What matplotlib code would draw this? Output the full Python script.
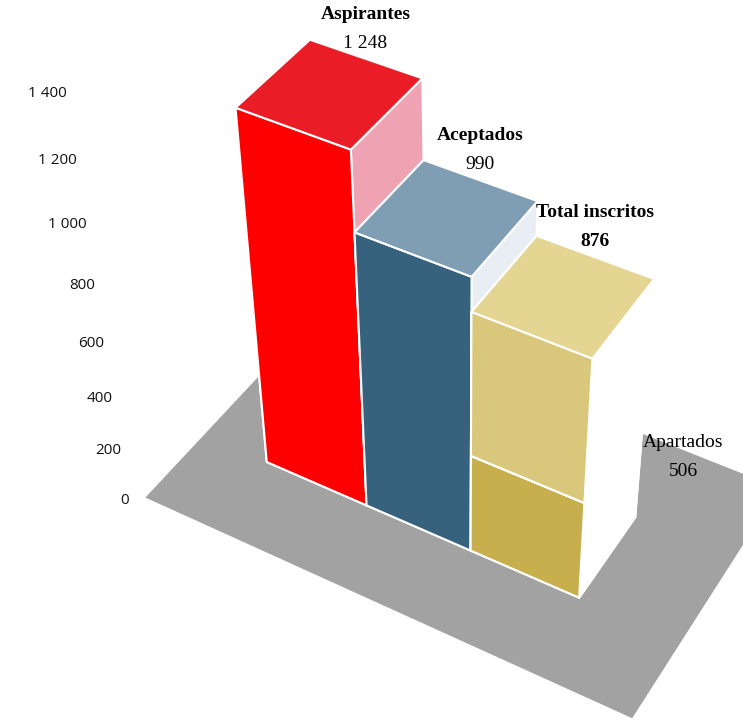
import matplotlib.pyplot as plt
from matplotlib.transforms import offset_copy
from mpl_toolkits.mplot3d import proj3d
from mpl_toolkits.mplot3d.art3d import Poly3DCollection

categories = ['Aspirantes', 'Aceptados', 'Total inscritos']
values = [1248, 990, 876]
value_labels = ['1 248', '990', '876']
apartados = 506
apartados_label = 'Apartados'
ticks = [0, 200, 400, 600, 800, 1000, 1200, 1400]
tick_labels = ['0', '200', '400', '600', '800', '1 000', '1 200', '1 400']

# colores: frente, tapa, lateral
front_colors = ['#fe0000', '#37627d', '#d9c87c']
top_colors = ['#ea1d27', '#7f9db3', '#e4d592']
side_colors = ['#efa3b2', '#e8eef3', '#ffffff']
lower_gold = '#c7af4d'
floor_color = '#a2a2a2'

fig = plt.figure(figsize=(7.43, 7.21), dpi=100)
ax = fig.add_axes([0.11, 0.061, 1, 1], projection='3d')
ax.set_axis_off()
ax.computed_zorder = False
ax.set_proj_type('persp', focal_length=0.55)
ax.view_init(elev=42, azim=-60)

n = len(values)
depth = 1.0
x0, x1 = -0.65, n + 0.9
y0, y1 = -0.85, 1.9


def faces(front, top, side):
    # orden de bar3d: -z, +z, -y, +y, -x, +x
    return [front, top, front, front, front, side]


floor = Poly3DCollection([[(x0, y0, 0), (x1, y0, 0), (x1, y1, 0), (x0, y1, 0)]],
                         facecolor=floor_color, edgecolor='none', zorder=1)
ax.add_collection3d(floor)
floor.set_clip_on(False)

bars = []
for i, v in enumerate(values):
    if i == n - 1:
        lower = v - apartados
        bars.append(ax.bar3d(i, 0, 0, 1, depth, lower,
                             color=faces(lower_gold, lower_gold, side_colors[i]),
                             shade=False, edgecolor='white', linewidth=1.5, zorder=2 + i))
        bars.append(ax.bar3d(i, 0, lower, 1, depth, apartados,
                             color=faces(front_colors[i], top_colors[i], side_colors[i]),
                             shade=False, edgecolor='white', linewidth=1.5, zorder=3 + i))
    else:
        bars.append(ax.bar3d(i, 0, 0, 1, depth, v,
                             color=faces(front_colors[i], top_colors[i], side_colors[i]),
                             shade=False, edgecolor='white', linewidth=1.5, zorder=2 + i))
for b in bars:
    b.set_clip_on(False)

ax.set_xlim(x0, x1)
ax.set_ylim(y0, y1)
ax.set_zlim(0, 1400)
ax.set_box_aspect((x1 - x0, y1 - y0, 4.2), zoom=1.18)


def to2d(x, y, z):
    # proyección de la propia Axes3D
    px, py, _ = proj3d.proj_transform(x, y, z, ax.get_proj())
    return px, py


serif = 'Liberation Serif'
value_shift = offset_copy(ax.transData, fig=fig, y=7, units='dots')
name_shift = offset_copy(ax.transData, fig=fig, y=36, units='dots')
for i, (cat, lab) in enumerate(zip(categories, value_labels)):
    px, py = to2d(i + 0.5, depth, values[i])
    bold = 'bold' if i == n - 1 else 'normal'
    ax.text2D(px, py, lab, transform=value_shift, ha='center', va='bottom',
              fontsize=14, family=serif, fontweight=bold, zorder=10, clip_on=False)
    ax.text2D(px, py, cat, transform=name_shift, ha='center', va='bottom',
              fontsize=14, family=serif, fontweight='bold', zorder=10, clip_on=False)

px, py = to2d(n + 0.55, depth * 0.6, values[-1] - apartados)
ax.text2D(px, py, str(apartados), transform=ax.transData, ha='center', va='bottom',
          fontsize=14, family=serif, zorder=10, clip_on=False)
ax.text2D(px, py, apartados_label, transform=offset_copy(ax.transData, fig=fig, y=29, units='dots'),
          ha='center', va='bottom', fontsize=14, family=serif, zorder=10, clip_on=False)

for t, lab in zip(ticks, tick_labels):
    px, py = to2d(x0 - 0.1, y0 - 0.1, t)
    ax.text2D(px, py, lab, transform=ax.transData, ha='right', va='center',
              fontsize=11, family='Open Sans', color='#111111', zorder=10, clip_on=False)

fig.savefig('out.png', dpi=100)
